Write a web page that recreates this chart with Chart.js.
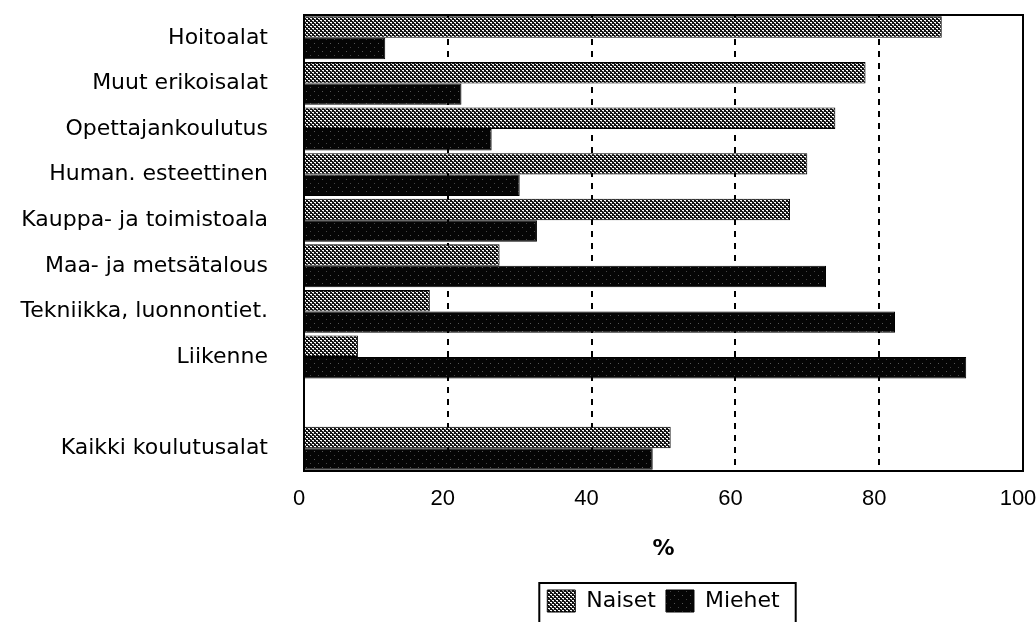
<!DOCTYPE html>
<html>
<head>
<meta charset="utf-8">
<script src="https://cdn.jsdelivr.net/npm/chart.js@4.4.1/dist/chart.umd.min.js"></script>
<style>
  body { margin: 0; background: #fff; }
</style>
</head>
<body>
<canvas id="kaavio" width="1036" height="622"></canvas>
<script>
// Koulutusalat (tyhjä rivi ennen yhteensä-riviä)
let alat = [
  "Hoitoalat",
  "Muut erikoisalat",
  "Opettajankoulutus",
  "Human. esteettinen",
  "Kauppa- ja toimistoala",
  "Maa- ja metsätalous",
  "Tekniikka, luonnontiet.",
  "Liikenne",
  "",
  "Kaikki koulutusalat",
];

// Osuudet prosentteina
let naiset = [88.7, 78.1, 73.9, 70.0, 67.6, 27.2, 17.5, 7.5, null, 51.0];
let miehet = [11.3, 21.9, 26.1, 30.0, 32.4, 72.6, 82.2, 92.1, null, 48.5];

let xTiksit = [0, 20, 40, 60, 80, 100];

// Rasterikuviot pylväille
let teeKuvio = (koko, pohja, pisteet) => {
  let c = document.createElement("canvas");
  c.width = koko;
  c.height = koko;
  let g = c.getContext("2d");
  g.fillStyle = pohja;
  g.fillRect(0, 0, koko, koko);
  pisteet.forEach(([x, y, vari]) => {
    g.fillStyle = vari;
    g.fillRect(x, y, 1, 1);
  });
  return g.createPattern(c, "repeat");
};

let naisetKuvio = teeKuvio(4, "#111", [
  [0, 0, "#fff"], [1, 0, "#fff"], [2, 2, "#fff"], [3, 2, "#fff"],
  [1, 1, "#999"], [3, 3, "#999"],
]);
let miehetKuvio = teeKuvio(8, "#050505", [
  [2, 3, "#555"], [6, 7, "#444"],
]);

// Kuva-alueen kehys
let kehys = {
  id: "kehys",
  afterDatasetsDraw: (chart) => {
    let a = chart.chartArea;
    let ctx = chart.ctx;
    ctx.save();
    ctx.strokeStyle = "#000";
    ctx.lineWidth = 2;
    ctx.strokeRect(a.left, a.top, a.right - a.left, a.bottom - a.top);
    ctx.restore();
  },
};

// Selitteen laatikko
let selitekehys = {
  id: "selitekehys",
  afterDraw: (chart) => {
    let lg = chart.legend;
    let boxes = lg.legendHitBoxes;
    if (!boxes || !boxes.length) return;
    let vasen = Math.min(...boxes.map((b) => b.left)) - 8;
    let oikea = Math.max(...boxes.map((b) => b.left + b.width)) + 16;
    let ctx = chart.ctx;
    ctx.save();
    ctx.strokeStyle = "#000";
    ctx.lineWidth = 2;
    ctx.strokeRect(vasen, lg.top + 3, oikea - vasen, 50);
    ctx.restore();
  },
};

let config = {
  type: "bar",
  data: {
    labels: alat,
    datasets: [
      {
        label: "Naiset",
        data: naiset,
        backgroundColor: naisetKuvio,
        borderColor: "#000",
        borderWidth: 1,
      },
      {
        label: "Miehet",
        data: miehet,
        backgroundColor: miehetKuvio,
        borderColor: "#000",
        borderWidth: 1,
      },
    ],
  },
  options: {
    indexAxis: "y",
    responsive: false,
    devicePixelRatio: 1,
    animation: false,
    layout: { padding: { top: 15, right: 0, left: 0, bottom: 0 } },
    datasets: {
      bar: { categoryPercentage: 0.94, barPercentage: 1 },
    },
    scales: {
      x: {
        min: 0,
        max: 100,
        afterBuildTicks: (scale) => {
          scale.ticks = xTiksit.map((v) => ({ value: v }));
        },
        afterFit: (scale) => {
          scale.height = 109;
          scale.paddingLeft = 0;
          scale.paddingRight = 13;
        },
        grid: {
          drawTicks: false,
          lineWidth: 2,
          color: (c) =>
            c.tick && (c.tick.value === 0 || c.tick.value === 100)
              ? "rgba(0,0,0,0)"
              : "#000",
        },
        border: { display: false, dash: [6, 6] },
        ticks: {
          padding: 15,
          labelOffset: -5,
          color: "#000",
          font: { family: "Liberation Sans", size: 22 },
        },
        title: {
          display: true,
          text: "%",
          color: "#000",
          font: { family: "DejaVu Sans", size: 22, weight: "bold" },
          padding: { top: 0, bottom: 18 },
        },
      },
      y: {
        afterFit: (scale) => {
          scale.width = 304;
          scale.paddingTop = 0;
          scale.paddingBottom = 0;
        },
        grid: { display: false, drawTicks: false },
        border: { display: false },
        ticks: {
          padding: 36,
          color: "#000",
          autoSkip: false,
          font: { family: "DejaVu Sans", size: 22 },
        },
      },
    },
    plugins: {
      legend: {
        position: "bottom",
        fullSize: false,
        labels: {
          color: "#000",
          boxWidth: 28,
          boxHeight: 22,
          padding: 10,
          font: { family: "DejaVu Sans", size: 22 },
        },
      },
      tooltip: { enabled: false },
    },
  },
  plugins: [kehys, selitekehys],
};

let kaavio = new Chart(document.getElementById("kaavio"), config);
</script>
</body>
</html>
